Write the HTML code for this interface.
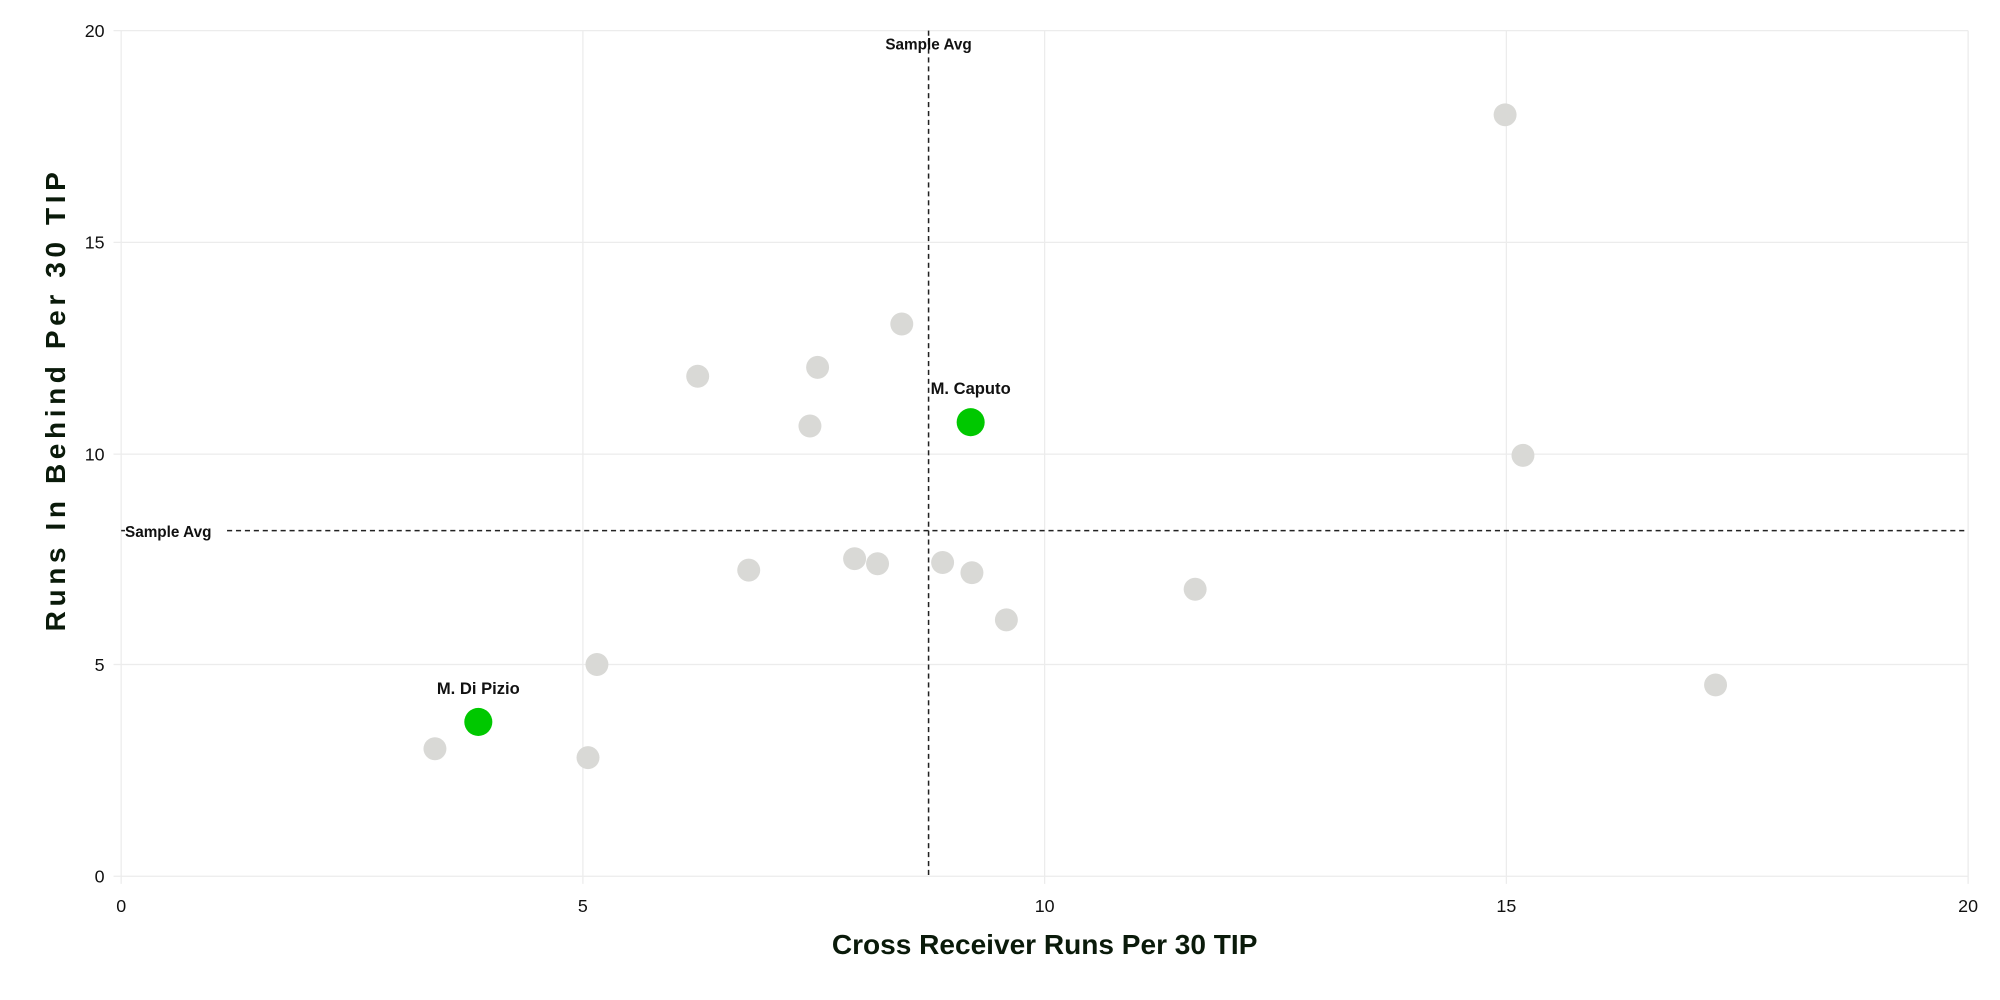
<!DOCTYPE html>
<html><head><style>html,body{margin:0;padding:0;background:#fff}svg{display:block}</style></head>
<body>
<svg width="2000" height="1000" viewBox="0 0 1568 784" xmlns="http://www.w3.org/2000/svg" font-family="Liberation Sans, Arial, sans-serif">
<rect width="1568" height="784" fill="#fff"/>
<g stroke="#ececec" stroke-width="1">
<line x1="95" y1="24" x2="95" y2="693"/><line x1="457" y1="24" x2="457" y2="693"/><line x1="819" y1="24" x2="819" y2="693"/><line x1="1181" y1="24" x2="1181" y2="693"/><line x1="1543" y1="24" x2="1543" y2="693"/>
<line x1="89" y1="24" x2="1543" y2="24"/><line x1="89" y1="190" x2="1543" y2="190"/><line x1="89" y1="356" x2="1543" y2="356"/><line x1="89" y1="521" x2="1543" y2="521"/><line x1="89" y1="687" x2="1543" y2="687"/>
</g>
<g fill="#111" font-size="14" text-anchor="end">
<text x="82" y="29">20</text><text x="82" y="195">15</text><text x="82" y="361">10</text><text x="82" y="526">5</text><text x="82" y="692">0</text>
</g>
<g fill="#111" font-size="14" text-anchor="middle">
<text x="95" y="715">0</text><text x="457" y="715">5</text><text x="819" y="715">10</text><text x="1181" y="715">15</text><text x="1543" y="715">20</text>
</g>
<text x="819" y="748" text-anchor="middle" font-size="22" font-weight="bold" fill="#0a1a0a">Cross Receiver Runs Per 30 TIP</text>
<text transform="translate(51,315) rotate(-90)" x="-180" font-size="22" font-weight="bold" fill="#0a1a0a" textLength="360" lengthAdjust="spacing">Runs In Behind Per 30 TIP</text>
<line x1="728" y1="24" x2="728" y2="687" stroke="#222" stroke-width="1.2" stroke-dasharray="4,3"/>
<line x1="178" y1="416" x2="1543" y2="416" stroke="#222" stroke-width="1.2" stroke-dasharray="4,3"/>
<line x1="95" y1="416" x2="98" y2="416" stroke="#222" stroke-width="1.2"/>
<text x="728" y="39" text-anchor="middle" font-size="12" font-weight="bold" fill="#111">Sample Avg</text>
<text x="98" y="421" font-size="12" font-weight="bold" fill="#111">Sample Avg</text>
<g fill="#d9d9d6">
<circle cx="1180" cy="90" r="9"/><circle cx="1194" cy="357" r="9"/><circle cx="707" cy="254" r="9"/><circle cx="641" cy="288" r="9"/><circle cx="547" cy="295" r="9"/><circle cx="635" cy="334" r="9"/><circle cx="670" cy="438" r="9"/><circle cx="688" cy="442" r="9"/><circle cx="587" cy="447" r="9"/><circle cx="739" cy="441" r="9"/><circle cx="762" cy="449" r="9"/><circle cx="937" cy="462" r="9"/><circle cx="789" cy="486" r="9"/><circle cx="468" cy="521" r="9"/><circle cx="1345" cy="537" r="9"/><circle cx="341" cy="587" r="9"/><circle cx="461" cy="594" r="9"/>
</g>
<g fill="#00c800">
<circle cx="761" cy="331" r="11"/><circle cx="375" cy="566" r="11"/>
</g>
<text x="761" y="309" text-anchor="middle" font-size="13" font-weight="bold" fill="#111">M. Caputo</text>
<text x="375" y="544" text-anchor="middle" font-size="13" font-weight="bold" fill="#111">M. Di Pizio</text>
</svg>
</body></html>
